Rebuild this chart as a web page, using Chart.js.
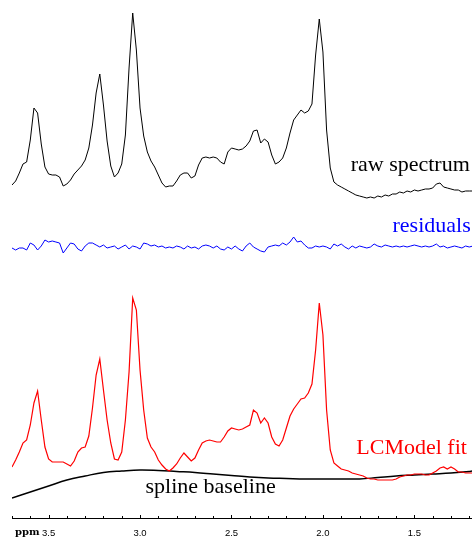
<!DOCTYPE html>
<html><head><meta charset="utf-8">
<script src="https://cdn.jsdelivr.net/npm/chart.js@4/dist/chart.umd.min.js"></script>
<style>html,body{margin:0;padding:0;background:#fff}#wrap{width:472px;height:537px}</style>
</head><body><div id="wrap"><canvas id="c" width="472" height="537"></canvas></div>
<script>
// ppm grid: 3.70 down to 1.18 in 0.02 steps (one value per grid point)
const gridStartPpm = 3.70;
const gridStepPpm = 0.02;

const rawSpectrum = [
333,337,345,354,356,378,410,405,374,351,
344,343,343,341,332,334,338,344,348,352,
358,370,393,425,444,413,377,352,341,345,
354,383,450,505,468,410,382,366,357,351,
343,335,331,332,332,337,343,345,345,340,
342,353,360,361,360,361,360,356,354,366,
370,369,368,369,372,377,387,388,375,379,
376,363,354,356,360,370,385,398,403,408,
405,407,414,463,499,466,388,350,336,333,
331,329,327,325,323,322,321,320,321,320,
322,321,323,322,324,324,326,325,327,326,
328,327,328,329,329,330,334,335,331,330,
329,328,328,326,327,327,327];

const residuals = [
270,268,270,270,268,275,273,268,272,278,
276,277,276,275,265,270,275,274,269,267,
272,275,275,273,271,273,270,271,272,269,
271,273,269,272,271,269,275,274,272,273,
271,272,270,271,270,272,271,269,272,270,
271,269,272,273,272,270,272,269,268,271,
269,272,269,267,272,275,271,269,267,266,
271,272,273,272,275,273,276,281,276,277,
273,270,270,272,271,272,271,269,274,272,
274,271,269,272,270,272,271,270,271,274,
272,271,273,272,271,272,271,272,271,272,
273,272,271,272,271,272,274,271,272,270,
271,272,271,270,272,271,272];

const lcmodelFit = [
51,58,66,75,78,93,115,127,98,71,
59,56,56,56,56,54,52,57,66,70,
71,82,110,143,159,128,98,75,59,58,
66,98,146,220,208,148,108,80,71,66,
58,53,49,47,50,54,60,65,61,57,
60,68,75,77,78,77,76,76,81,87,
90,89,88,89,91,93,108,105,95,100,
95,81,74,72,78,90,102,109,114,119,
120,125,134,168,215,183,108,68,55,52,
49,48,47,45,44,43,42,40,39,39,
38,38,38,38,38,39,41,42,43,43,
44,44,44,43,43,45,47,50,51,49,
51,49,46,46,45,45,45];

const baselinePpm = [3.7,3.6,3.5,3.4,3.3,3.2,3.1,3.0,2.9,2.8,2.7,2.6,2.5,2.4,2.3,2.2,2.1,2.0,1.9,1.8,1.7,1.6,1.5,1.4,1.3,1.2,1.185];
const splineBaseline = [20,26,32,38,42,45.5,47,48,47.5,46.5,45.5,44,42.5,41,40,39.5,39,39,39,39,40.5,42,43,44,45,46.5,47];

const majorTickLabels = ['3.5','3.0','2.5','2.0','1.5'];
const axisUnit = 'ppm';

const gridPpm = rawSpectrum.map((_, i) => +(gridStartPpm - gridStepPpm * i).toFixed(2));
const pts = (xs, ys) => ys.map((y, i) => ({x: xs[i], y}));

const textLabels = [
  {text: 'raw spectrum', x: 1.197, y: 347, color: '#000000', align: 'right'},
  {text: 'residuals', x: 1.192, y: 286, color: '#0000ff', align: 'right'},
  {text: 'LCModel fit', x: 1.213, y: 64, color: '#ff0000', align: 'right'},
  {text: 'spline baseline', x: 2.97, y: 25, color: '#000000', align: 'left'}
];

const labelPlugin = {
  id: 'seriesLabels',
  afterDatasetsDraw(chart) {
    const {ctx, scales: {x, y}} = chart;
    ctx.save();
    ctx.font = '22px "Liberation Serif", "Times New Roman", serif';
    ctx.textBaseline = 'alphabetic';
    textLabels.forEach(l => {
      ctx.fillStyle = l.color;
      ctx.textAlign = l.align;
      ctx.fillText(l.text, x.getPixelForValue(l.x), y.getPixelForValue(l.y));
    });
    ctx.restore();
  },
  afterDraw(chart) {
    const {ctx, scales: {x}} = chart;
    const yb = x.top;
    ctx.save();
    ctx.strokeStyle = '#000';
    ctx.lineWidth = 1;
    x.ticks.forEach(t => {
      const px = Math.round(x.getPixelForValue(t.value)) + 0.5;
      const major = majorTickLabels.includes(t.value.toFixed(1));
      ctx.beginPath();
      ctx.moveTo(px, yb);
      ctx.lineTo(px, yb - (major ? 3 : 2));
      ctx.stroke();
    });
    ctx.font = 'bold 10px "DejaVu Serif", serif';
    ctx.fillStyle = '#000';
    ctx.textAlign = 'left';
    ctx.textBaseline = 'alphabetic';
    ctx.fillText(axisUnit, 15, yb + 17);
    ctx.restore();
  }
};

new Chart(document.getElementById('c'), {
  type: 'line',
  data: {
    datasets: [
      {label: 'raw spectrum', data: pts(gridPpm, rawSpectrum), borderColor: '#000000', borderWidth: 1},
      {label: 'residuals', data: pts(gridPpm, residuals), borderColor: '#0000ff', borderWidth: 1},
      {label: 'LCModel fit', data: pts(gridPpm, lcmodelFit), borderColor: '#ff0000', borderWidth: 1.2},
      {label: 'spline baseline', data: pts(baselinePpm, splineBaseline), borderColor: '#000000', borderWidth: 1.5, tension: 0.4}
    ]
  },
  options: {
    responsive: false,
    animation: false,
    devicePixelRatio: 1,
    layout: {autoPadding: false, padding: {left: 12, right: 0, top: 0, bottom: 0}},
    elements: {point: {radius: 0}, line: {tension: 0, fill: false}},
    plugins: {legend: {display: false}, tooltip: {enabled: false}},
    scales: {
      x: {
        type: 'linear', reverse: true, min: 1.185, max: 3.70,
        grid: {display: true, drawOnChartArea: false, drawTicks: false},
        border: {display: true, color: '#000', width: 1},
        ticks: {
          stepSize: 0.1, includeBounds: false, autoSkip: false, maxRotation: 0,
          padding: 9.5, color: '#000',
          font: {family: '"Liberation Sans", Arial, sans-serif', size: 9.5},
          callback: v => { const s = (+v).toFixed(1); return majorTickLabels.includes(s) ? s : ''; }
        },
        afterFit(scale) { scale.height = 19; scale.paddingLeft = 0; scale.paddingRight = 0; }
      },
      y: {display: false, min: 0, max: 518}
    }
  },
  plugins: [labelPlugin]
});
</script>
</body></html>
